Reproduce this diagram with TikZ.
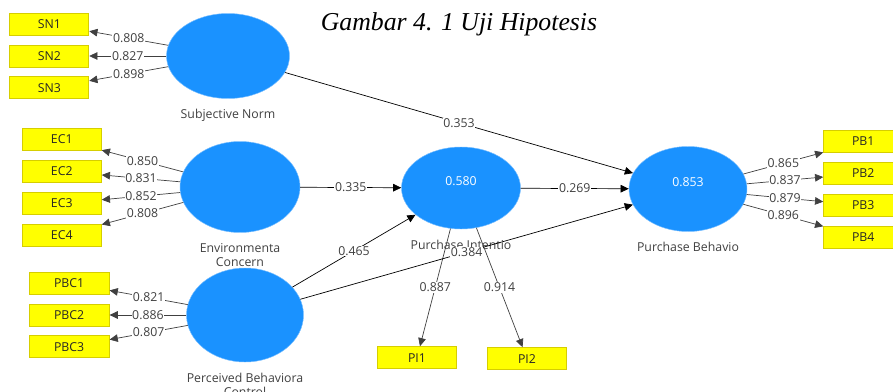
\documentclass[tikz,border=0pt]{standalone}
\usepackage{fontspec}
\setmainfont{Liberation Serif}
\setsansfont{Open Sans}
\usetikzlibrary{positioning,shapes.geometric,arrows.meta}
\definecolor{lvblue}{RGB}{26,146,255}
\definecolor{lvrim}{RGB}{120,190,255}
\definecolor{mvfill}{RGB}{255,255,0}
\definecolor{mvrim}{RGB}{214,206,0}

\begin{document}
\begin{tikzpicture}[x=0.03cm, y=-0.03cm, font=\sffamily\fontsize{10.5}{12}\selectfont,
    latent/.style={ellipse, fill=lvblue, draw=lvrim, line width=0.4pt, inner sep=0pt},
    mv/.style={rectangle, fill=mvfill, draw=mvrim, line width=0.8pt, minimum width=23.7mm, minimum height=6.6mm, inner sep=0pt, text=black!85},
    lvname/.style={align=center, inner sep=0pt, label distance=3.2mm, text=black!75},
    r2/.style={text=white, yshift=2mm},
    outerarr/.style={-{Triangle[length=7pt,width=6.5pt]}, draw=black!75, line width=0.6pt},
    innerarr/.style={-{Triangle[length=7pt,width=6.5pt]}, draw=black, line width=0.6pt},
    coef/.style={midway, fill=white, inner sep=0.6pt, text=black!75}]
    \clip (0,0) rectangle (893,392);

    \node[anchor=base] (title) at (459,31) {\rmfamily\itshape\fontsize{22}{26}\selectfont Gambar 4. 1 Uji Hipotesis};

    \node[latent, minimum width=36.9mm, minimum height=25.5mm, label={[lvname]below:Subjective Norm}] (sn) at (228,56) {};
    \node[latent, minimum width=36mm, minimum height=27.3mm, label={[lvname]below:Environmenta\\Concern}] (ec) at (240,187) {};
    \node[latent, minimum width=35.1mm, minimum height=28.2mm, label={[lvname]below:Perceived Behaviora\\Control}] (pbc) at (245,315) {};
    \node[latent, minimum width=35.7mm, minimum height=24.6mm, label={[lvname]below:Purchase Intentio}, label={[r2]center:0.580}] (pi) at (461,188) {};
    \node[latent, minimum width=35.4mm, minimum height=25.5mm, label={[lvname]below:Purchase Behavio}, label={[r2]center:0.853}] (pb) at (688,189) {};

    \node[mv, left=23.1mm of sn] (sn2) {SN2};
    \node[mv, above=2.7mm of sn2] (sn1) {SN1};
    \node[mv, below=2.7mm of sn2] (sn3) {SN3};

    \node[mv, left=23.4mm of ec, yshift=4.65mm] (ec2) {EC2};
    \node[mv, above=2.7mm of ec2] (ec1) {EC1};
    \node[mv, below=2.7mm of ec2] (ec3) {EC3};
    \node[mv, below=2.7mm of ec3] (ec4) {EC4};

    \node[mv, minimum width=24mm, left=23mm of pbc] (pbc2) {PBC2};
    \node[mv, minimum width=24mm, above=2.7mm of pbc2] (pbc1) {PBC1};
    \node[mv, minimum width=24mm, below=2.7mm of pbc2] (pbc3) {PBC3};

    \node[mv, below=35.1mm of pi, xshift=-13.2mm] (pi1) {PI1};
    \node[mv, below=35.4mm of pi, xshift=19.8mm] (pi2) {PI2};

    \node[mv, right=22.8mm of pb, yshift=4.65mm] (pb2) {PB2};
    \node[mv, above=2.7mm of pb2] (pb1) {PB1};
    \node[mv, below=2.7mm of pb2] (pb3) {PB3};
    \node[mv, below=2.7mm of pb3] (pb4) {PB4};

    \foreach \i/\v in {1/0.808, 2/0.827, 3/0.898}
        \draw[outerarr] (sn) -- node[coef] {\v} (sn\i);
    \foreach \i/\v in {1/0.850, 2/0.831, 3/0.852, 4/0.808}
        \draw[outerarr] (ec) -- node[coef] {\v} (ec\i);
    \foreach \i/\v in {1/0.821, 2/0.886, 3/0.807}
        \draw[outerarr] (pbc) -- node[coef] {\v} (pbc\i);
    \foreach \i/\v in {1/0.887, 2/0.914}
        \draw[outerarr] (pi) -- node[coef] {\v} (pi\i);
    \foreach \i/\v in {1/0.865, 2/0.837, 3/0.879, 4/0.896}
        \draw[outerarr] (pb) -- node[coef] {\v} (pb\i);

    \draw[innerarr] (sn) -- node[coef] {0.353} (pb);
    \draw[innerarr] (ec) -- node[coef] {0.335} (pi);
    \draw[innerarr] (pbc) -- node[coef] {0.465} (pi);
    \draw[innerarr] (pbc) -- node[coef] {0.384} (pb);
    \draw[innerarr] (pi) -- node[coef] {0.269} (pb);
\end{tikzpicture}
\end{document}
